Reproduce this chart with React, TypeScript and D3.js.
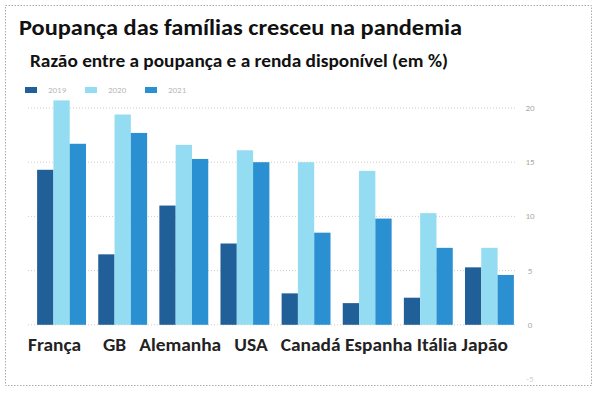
import { scaleBand, scaleLinear } from 'd3';

const categories = ['França', 'GB', 'Alemanha', 'USA', 'Canadá', 'Espanha', 'Itália', 'Japão'];
const series = ['2019', '2020', '2021'];
const values2019 = [14.3, 6.5, 11.0, 7.5, 2.9, 2.0, 2.5, 5.3];
const values2020 = [20.7, 19.4, 16.6, 16.1, 15.0, 14.2, 10.3, 7.1];
const values2021 = [16.7, 17.7, 15.3, 15.0, 8.5, 9.8, 7.1, 4.6];
const yTicks = [-5, 0, 5, 10, 15, 20];

const colors = ['#215f98', '#93dcf2', '#2a90d2'];
// the category names sit in one text box under the bars, spaced by hand
const labelGaps = [5, 3, 3, 3, 1, 1, 1, 0];

export default function App() {
  const width = 598;
  const height = 396;
  const allValues = [values2019, values2020, values2021];

  const x = scaleBand<string>().domain(categories).range([31, 520]).paddingInner(0.2).paddingOuter(0.1);
  const xs = scaleBand<string>().domain(series).range([0, x.bandwidth()]);
  const y = scaleLinear().domain([-5, 20]).range([379, 108]);

  const font = 'Calibri, Lato, "Open Sans", sans-serif';
  const labelRow = categories.map((c, i) => c + '\u00a0'.repeat(labelGaps[i])).join('');
  const rowStart = (x(categories[0]) ?? 0) - 9;
  const rowEnd = (x(categories[categories.length - 1]) ?? 0) + x.bandwidth() - 6;

  return (
    <svg width={width} height={height} style={{ position: 'absolute', left: 0, top: 0, background: '#fff' }}>
      <rect x={5.5} y={5.5} width={586} height={380} fill="#fff" stroke="#aaa" strokeDasharray="1.5 1.5" />
      <text x={19} y={35} fontFamily={font} fontSize={22} fontWeight={600} fill="#111"
        textLength={443} lengthAdjust="spacingAndGlyphs">
        Poupança das famílias cresceu na pandemia
      </text>
      <text x={30} y={67} fontFamily={font} fontSize={17} fontWeight={700} fill="#111"
        textLength={418} lengthAdjust="spacingAndGlyphs">
        Razão entre a poupança e a renda disponível (em %)
      </text>

      {series.map((s, i) => (
        <g key={s} transform={`translate(${25 + i * 60},90)`}>
          <rect x={0} y={-3} width={12} height={6} fill={colors[i]} />
          <text x={23} y={3} fontFamily={font} fontSize={9} fill="#bbb">{s}</text>
        </g>
      ))}

      {yTicks.filter(t => t >= 0).map(t => (
        <line key={t} x1={28} x2={515} y1={y(t)} y2={y(t)} stroke="#d9c8c8" strokeDasharray="1 2" />
      ))}
      {yTicks.map(t => (
        <text key={t} x={530} y={y(t) + 3} textAnchor="middle" fontFamily={font} fontSize={9}
          fill={t < 0 ? '#dcc' : '#aaa'}>{t}</text>
      ))}

      {categories.map((c, ci) => (
        <g key={c} transform={`translate(${x(c)},0)`}>
          {series.map((s, si) => {
            const v = allValues[si][ci];
            return <rect key={s} x={xs(s)} y={y(v)} width={xs.bandwidth()} height={y(0) - y(v)} fill={colors[si]} />;
          })}
        </g>
      ))}

      <text x={rowStart} y={351} fontFamily={font} fontSize={18.5} fontWeight={700} fill="#222"
        textLength={rowEnd - rowStart} lengthAdjust="spacingAndGlyphs">{labelRow}</text>
    </svg>
  );
}
